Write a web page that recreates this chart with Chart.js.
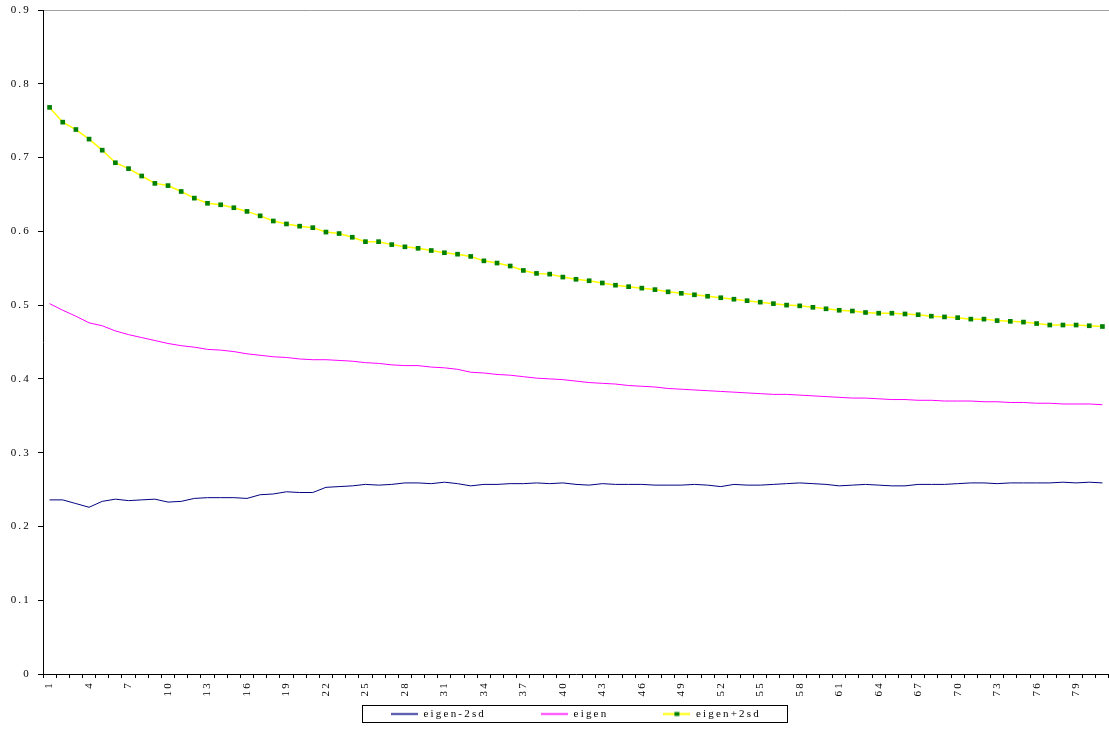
<!DOCTYPE html>
<html>
<head>
<meta charset="utf-8">
<script src="https://cdn.jsdelivr.net/npm/chart.js@4/dist/chart.umd.min.js"></script>
<style>
  html, body { margin: 0; padding: 0; background: #fff; overflow: hidden; }
  canvas { display: block; }
</style>
</head>
<body>
<canvas id="eigenChart" width="1109" height="729"></canvas>
<script>
// ---- data ----
const categories = [1, 2, 3, 4, 5, 6, 7, 8, 9, 10, 11, 12, 13, 14, 15, 16, 17, 18, 19, 20,
  21, 22, 23, 24, 25, 26, 27, 28, 29, 30, 31, 32, 33, 34, 35, 36, 37, 38, 39, 40,
  41, 42, 43, 44, 45, 46, 47, 48, 49, 50, 51, 52, 53, 54, 55, 56, 57, 58, 59, 60,
  61, 62, 63, 64, 65, 66, 67, 68, 69, 70, 71, 72, 73, 74, 75, 76, 77, 78, 79, 80, 81];

const eigenMinus2sd = [0.236, 0.236, 0.231, 0.226, 0.234, 0.237, 0.235, 0.236, 0.237, 0.233,
  0.234, 0.238, 0.239, 0.239, 0.239, 0.238, 0.243, 0.244, 0.247, 0.246,
  0.246, 0.253, 0.254, 0.255, 0.257, 0.256, 0.257, 0.259, 0.259, 0.258,
  0.260, 0.258, 0.255, 0.257, 0.257, 0.258, 0.258, 0.259, 0.258, 0.259,
  0.257, 0.256, 0.258, 0.257, 0.257, 0.257, 0.256, 0.256, 0.256, 0.257,
  0.256, 0.254, 0.257, 0.256, 0.256, 0.257, 0.258, 0.259, 0.258, 0.257,
  0.255, 0.256, 0.257, 0.256, 0.255, 0.255, 0.257, 0.257, 0.257, 0.258,
  0.259, 0.259, 0.258, 0.259, 0.259, 0.259, 0.259, 0.260, 0.259, 0.260, 0.259];

const eigen = [0.502, 0.493, 0.485, 0.476, 0.472, 0.465, 0.460, 0.456, 0.452, 0.448,
  0.445, 0.443, 0.440, 0.439, 0.437, 0.434, 0.432, 0.430, 0.429, 0.427,
  0.426, 0.426, 0.425, 0.424, 0.422, 0.421, 0.419, 0.418, 0.418, 0.416,
  0.415, 0.413, 0.409, 0.408, 0.406, 0.405, 0.403, 0.401, 0.400, 0.399,
  0.397, 0.395, 0.394, 0.393, 0.391, 0.390, 0.389, 0.387, 0.386, 0.385,
  0.384, 0.383, 0.382, 0.381, 0.380, 0.379, 0.379, 0.378, 0.377, 0.376,
  0.375, 0.374, 0.374, 0.373, 0.372, 0.372, 0.371, 0.371, 0.370, 0.370,
  0.370, 0.369, 0.369, 0.368, 0.368, 0.367, 0.367, 0.366, 0.366, 0.366, 0.365];

const eigenPlus2sd = [0.768, 0.748, 0.738, 0.725, 0.710, 0.693, 0.685, 0.675, 0.665, 0.662,
  0.654, 0.645, 0.638, 0.636, 0.632, 0.627, 0.621, 0.614, 0.610, 0.607,
  0.605, 0.599, 0.597, 0.592, 0.586, 0.586, 0.582, 0.579, 0.577, 0.574,
  0.571, 0.569, 0.566, 0.560, 0.557, 0.553, 0.547, 0.543, 0.542, 0.538,
  0.535, 0.533, 0.530, 0.527, 0.525, 0.523, 0.521, 0.518, 0.516, 0.514,
  0.512, 0.510, 0.508, 0.506, 0.504, 0.502, 0.500, 0.499, 0.497, 0.495,
  0.493, 0.492, 0.490, 0.489, 0.489, 0.488, 0.487, 0.485, 0.484, 0.483,
  0.481, 0.481, 0.479, 0.478, 0.477, 0.475, 0.473, 0.473, 0.473, 0.472, 0.471];

const seriesNames = ['eigen-2sd', 'eigen', 'eigen+2sd'];

// ---- legend swatches (line sample, optional square marker) ----
function makeSwatch(color, width, marker) {
    const c = document.createElement('canvas');
    c.width = 27;
    c.height = 7;
    const g = c.getContext('2d');
    g.strokeStyle = color;
    g.lineWidth = width;
    g.beginPath();
    g.moveTo(0, 3.5);
    g.lineTo(27, 3.5);
    g.stroke();
    if (marker) {
        g.fillStyle = marker;
        g.fillRect(11, 1.5, 5, 4);
    }
    return c;
}
const swatches = [
    makeSwatch('#000080', 1.5, null),
    makeSwatch('#FF00FF', 1.5, null),
    makeSwatch('#FFFF00', 2, '#008000')
];

// Excel style spaced text
const spacing = {
    id: 'spacing',
    beforeLayout(chart) { chart.ctx.letterSpacing = '2.2px'; },
    beforeDraw(chart) { chart.ctx.letterSpacing = '2.2px'; }
};

// plot area runs a few px past the right edge (as in the original);
// legend centred under the plot area, with a box round it
const legendFrame = {
    id: 'legendFrame',
    afterLayout(chart) {
        const extra = 4;
        const xs = chart.scales.x;
        chart.chartArea.right += extra;
        chart.chartArea.width += extra;
        xs.right += extra;
        xs.width += extra;
        xs.configure();

        const lg = chart.legend;
        lg.left = chart.chartArea.left;
        lg.right = chart.chartArea.right;
        lg.width = lg.right - lg.left;
        lg.top = 714 - lg.options.labels.padding - 5.5;
        lg.bottom = 729;
        lg.height = lg.bottom - lg.top;
    },
    afterDraw(chart) {
        const boxes = chart.legend.legendHitBoxes;
        if (!boxes || !boxes.length) return;
        const last = boxes[boxes.length - 1];
        const x0 = Math.round(boxes[0].left - 29) + 0.5;
        const x1 = Math.round(last.left + last.width + 26) + 0.5;
        const ctx = chart.ctx;
        ctx.save();
        ctx.strokeStyle = '#000';
        ctx.lineWidth = 1;
        ctx.strokeRect(x0, 705.5, x1 - x0, 17);
        ctx.restore();
    }
};

const tickFont = { family: '"Liberation Serif", "Times New Roman", serif', size: 11 };

const ctx = document.getElementById('eigenChart').getContext('2d');
const eigenChart = new Chart(ctx, {
    type: 'line',
    data: {
        labels: categories,
        datasets: [{
            label: seriesNames[0],
            data: eigenMinus2sd,
            borderColor: '#000080',
            borderWidth: 1,
            pointRadius: 0,
            tension: 0
        }, {
            label: seriesNames[1],
            data: eigen,
            borderColor: '#FF00FF',
            borderWidth: 1,
            pointRadius: 0,
            tension: 0
        }, {
            label: seriesNames[2],
            data: eigenPlus2sd,
            borderColor: '#FFFF00',
            borderWidth: 1.5,
            pointStyle: 'rect',
            pointRadius: 3.3,
            pointBackgroundColor: '#008000',
            pointBorderColor: '#008000',
            pointBorderWidth: 0,
            tension: 0
        }]
    },
    options: {
        responsive: false,
        animation: false,
        devicePixelRatio: 1,
        layout: { padding: { top: 10, right: 1, bottom: 6, left: 0 } },
        plugins: {
            tooltip: { enabled: false },
            legend: {
                position: 'bottom',
                maxHeight: 19,
                labels: {
                    color: '#000',
                    font: tickFont,
                    usePointStyle: true,
                    pointStyleWidth: 27,
                    padding: 55,
                    generateLabels: (chart) => Chart.defaults.plugins.legend.labels.generateLabels(chart)
                        .map((item, i) => ({ ...item, pointStyle: swatches[i] }))
                }
            }
        },
        scales: {
            x: {
                offset: true,
                grid: { offset: true, drawOnChartArea: false, tickLength: 4, tickColor: '#000' },
                border: { color: '#000', width: 1 },
                ticks: {
                    autoSkip: false,
                    maxRotation: 90,
                    minRotation: 90,
                    padding: 3,
                    color: '#000',
                    font: tickFont,
                    callback: function (val, i) { return i % 3 === 0 ? this.getLabelForValue(val) : ''; }
                },
                afterFit: (scale) => {
                    scale.height = 30;
                    scale.paddingLeft = 0;
                    scale.paddingRight = 0;
                }
            },
            y: {
                min: 0,
                max: 0.9,
                grid: {
                    color: (c) => (c.tick && Math.abs(c.tick.value - 0.9) < 1e-6) ? '#a0a0a0' : 'rgba(0,0,0,0)',
                    tickColor: '#000',
                    tickLength: 5
                },
                border: { color: '#000', width: 1 },
                ticks: {
                    stepSize: 0.1,
                    padding: 7,
                    color: '#000',
                    font: tickFont,
                    callback: (v) => v === 0 ? '0' : v.toFixed(1)
                },
                afterFit: (scale) => {
                    scale.width = 43;
                    scale.paddingTop = 0;
                    scale.paddingBottom = 0;
                }
            }
        }
    },
    plugins: [spacing, legendFrame]
});
</script>
</body>
</html>
